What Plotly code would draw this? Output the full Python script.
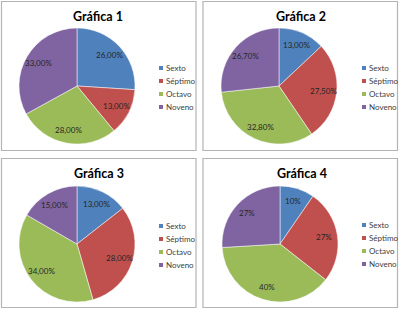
import math
import plotly.graph_objects as go

W, H = 400, 310

categories = ["Sexto", "Séptimo", "Octavo", "Noveno"]
colors = ["#4F81BD", "#C0504D", "#9BBB59", "#8064A2"]
titles = ["Gráfica 1", "Gráfica 2", "Gráfica 3", "Gráfica 4"]

values_1 = [26.0, 13.0, 28.0, 33.0]
values_2 = [13.0, 27.5, 32.8, 26.7]
values_3 = [13.0, 28.0, 34.0, 15.0]
values_4 = [10.0, 27.0, 40.0, 27.0]

labels_1 = ["26,00%", "13,00%", "28,00%", "33,00%"]
labels_2 = ["13,00%", "27,50%", "32,80%", "26,70%"]
labels_3 = ["13,00%", "28,00%", "34,00%", "15,00%"]
labels_4 = ["10%", "27%", "40%", "27%"]

all_values = [values_1, values_2, values_3, values_4]
all_labels = [labels_1, labels_2, labels_3, labels_4]

# layout (pixels)
pie_centers = [(77, 86), (279, 86), (77, 244), (280, 244)]
pie_r = 58
label_frac = 0.77
panels = [(1.5, 1.5, 196, 150.5), (203, 1.5, 397.5, 150.5),
          (1.5, 158.5, 196, 307.5), (203, 158.5, 397.5, 307.5)]
title_pos = [(98, 16), (301, 16), (99, 173), (302, 173)]
legend_pos = [(159, 68), (362, 68), (159, 226), (362, 225)]
legend_gap = 13


def px(x):
    return x / W


def py(y):
    return 1 - y / H


fig = go.Figure()
shapes = []
annotations = []

for i in range(4):
    cx, cy = pie_centers[i]
    vals = all_values[i]
    fig.add_trace(go.Pie(
        labels=categories,
        values=vals,
        textinfo="none",
        marker=dict(colors=colors, line=dict(color="white", width=0.5)),
        sort=False,
        direction="clockwise",
        rotation=0,
        showlegend=False,
        hoverinfo="label+value",
        domain=dict(x=[px(cx - pie_r), px(cx + pie_r)],
                    y=[py(cy + pie_r), py(cy - pie_r)]),
    ))

    # data labels placed along each slice bisector (derived from values)
    total = sum(vals)
    cum = 0.0
    for v, lab in zip(vals, all_labels[i]):
        mid = (cum + v / 2) / total * 2 * math.pi
        cum += v
        lx_ = cx + label_frac * pie_r * math.sin(mid)
        ly_ = cy - label_frac * pie_r * math.cos(mid)
        annotations.append(dict(text=lab, x=px(lx_), y=py(ly_),
                                xref="paper", yref="paper", showarrow=False,
                                xanchor="center", yanchor="middle",
                                font=dict(family="Lato", size=8, color="#262626")))

    x0, y0, x1, y1 = panels[i]
    shapes.append(dict(type="rect", xref="paper", yref="paper",
                       x0=px(x0), x1=px(x1), y0=py(y1), y1=py(y0),
                       line=dict(color="#B4B4B4", width=1.2),
                       fillcolor="rgba(0,0,0,0)", layer="below"))

    tx, ty = title_pos[i]
    annotations.append(dict(text="<b>" + titles[i] + "</b>", x=px(tx), y=py(ty),
                            xref="paper", yref="paper", showarrow=False,
                            xanchor="center", yanchor="middle",
                            font=dict(family="Lato", size=12.5, color="#000000")))

    lx, ly = legend_pos[i]
    for j, cat in enumerate(categories):
        yy = ly + j * legend_gap
        shapes.append(dict(type="rect", xref="paper", yref="paper",
                           x0=px(lx), x1=px(lx + 4), y0=py(yy + 2), y1=py(yy - 2),
                           line=dict(width=0), fillcolor=colors[j]))
        annotations.append(dict(text=cat, x=px(lx + 5), y=py(yy),
                                xref="paper", yref="paper", showarrow=False,
                                xanchor="left", yanchor="middle",
                                font=dict(family="Lato", size=8, color="#404040")))

fig.update_layout(
    width=W, height=H,
    margin=dict(l=0, r=0, t=0, b=0),
    paper_bgcolor="white",
    plot_bgcolor="white",
    shapes=shapes,
    annotations=annotations,
)

fig.write_html("out.html")
